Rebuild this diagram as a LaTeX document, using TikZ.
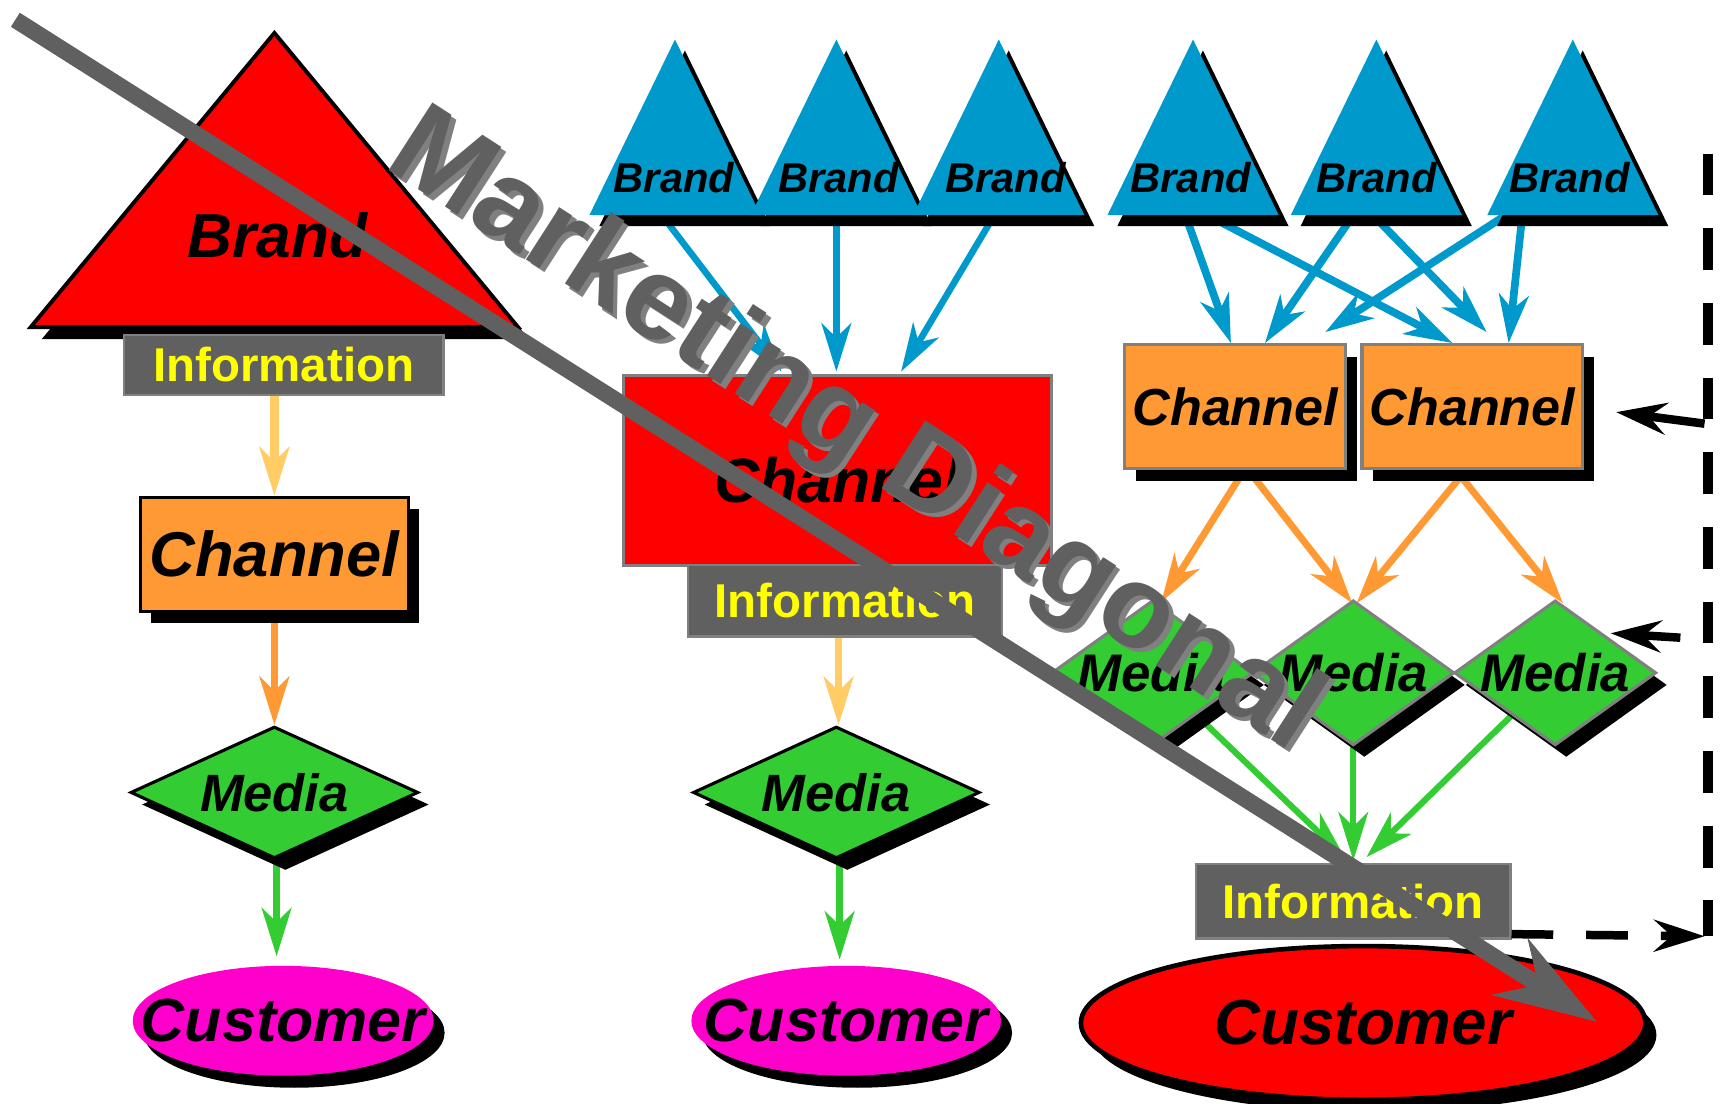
\documentclass[tikz,border=0pt]{standalone}
\usepackage{fontspec}
\setmainfont{Liberation Sans}
\usetikzlibrary{shapes.geometric,shadows,arrows.meta,calc,backgrounds}

\definecolor{brandred}{HTML}{FF0000}
\definecolor{brandblue}{HTML}{0099CC}
\definecolor{chorange}{HTML}{FF9933}
\definecolor{infoorange}{HTML}{FFCC66}
\definecolor{medgreen}{HTML}{33CC33}
\definecolor{custpink}{HTML}{FF00CC}
\definecolor{infogrey}{HTML}{606060}
\definecolor{edgegrey}{HTML}{808080}
\definecolor{infoyellow}{HTML}{FFFF00}

\newcommand{\setfs}[1]{\fontsize{#1}{#1}\selectfont}

\tikzset{
  blackshadow/.style={drop shadow={shadow xshift=0.1cm, shadow yshift=-0.11cm, fill=black, opacity=1}},
  trishadow/.style={drop shadow={shadow xshift=0.09cm, shadow yshift=-0.1cm, fill=black, opacity=1}},
  lbl/.style={font=\bfseries\itshape\setfs{#1}},
  chbox/.style={rectangle, draw=edgegrey, line width=0.8pt, fill=chorange, blackshadow, inner sep=0pt},
  infobox/.style={rectangle, draw=edgegrey, line width=0.6pt, fill=infogrey, text=infoyellow, inner sep=0pt, font=\bfseries\setfs{12.3}},
  medbox/.style={diamond, draw=edgegrey, line width=0.8pt, fill=medgreen, blackshadow, inner sep=0pt},
  custell/.style={ellipse, fill=custpink, blackshadow, inner sep=0pt},
  flowarr/.style 2 args={color=#1, line width=#2, -{Stealth[length=0.44cm, width=0.27cm, inset=0.13cm]}},
  fbarr/.style={line width=2.2pt, -{Stealth[length=0.46cm, width=0.29cm, inset=0.16cm]}},
  fbdash/.style={line width=2.6pt, dash pattern=on 0.38cm off 0.3cm},
  diagbar/.style={infogrey, line width=4.3pt, -{Stealth[length=0.93cm, width=0.6cm, inset=0.3cm]}},
  mdtext/.style={font=\bfseries\setfs{30.4}, rotate=-32.8, inner sep=0pt}
}

\begin{document}
\begin{tikzpicture}[x=0.01cm, y=-0.01cm]
  \useasboundingbox (0,0) rectangle (1568,1005);
  %% brands
  \draw[line width=1pt, fill=brandred, blackshadow] (250,30) -- (472,298) -- (28,298) -- cycle;
  \node[lbl=16.1] (brandL) at (253,214) {Brand};
  \foreach \x/\n in {615/mt1,762/mt2,910/mt3,1087/rt1,1254/rt2,1433/rt3}{
    \fill[brandblue, trishadow] (\x,36) -- (\x+78,196) -- (\x-78,196) -- cycle;
    \coordinate (\n) at (\x,196);
  }
  \foreach \x/\n in {614/mb1,764/mb2,916/mb3,1085/rb1,1254/rb2,1430/rb3}
    \node[lbl=10.8] (\n) at (\x,162) {Brand};

  %% left column
  \node[infobox, minimum width=2.91cm, minimum height=0.55cm] (infoL) at (258.5,332.5) {Information};
  \node[chbox, draw=black, lbl=16.4, minimum width=2.44cm, minimum height=1.04cm] (chL) at (250,505) {Channel};
  \node[medbox, draw=black, lbl=13.6, minimum width=2.62cm, minimum height=1.2cm] (medL) at (250,722) {\makebox[0pt]{Media}};
  \node[custell, lbl=15.8, minimum width=2.74cm, minimum height=1cm] (custL) at (258,930) {\makebox[0pt]{Customer}};

  %% middle column
  \node[rectangle, draw=edgegrey, line width=0.8pt, fill=brandred, lbl=16.2, minimum width=3.9cm, minimum height=1.73cm,
        text height=0.59cm, text depth=0pt] (chM) at (763,428.5) {Channel};
  \node[infobox, minimum width=2.86cm, minimum height=0.65cm] (infoM) at (770,547.5) {Information};
  \node[medbox, draw=black, lbl=13.6, minimum width=2.61cm, minimum height=1.2cm] (medM) at (762,722) {\makebox[0pt]{Media}};
  \node[custell, lbl=15.8, minimum width=2.82cm, minimum height=1cm] (custM) at (771,930) {\makebox[0pt]{Customer}};

  %% right column
  \node[chbox, lbl=13.5, minimum width=2.01cm, minimum height=1.13cm] (ch1) at (1125.5,370.5) {Channel};
  \node[chbox, lbl=13.5, minimum width=2.01cm, minimum height=1.13cm] (ch2) at (1341.5,370.5) {Channel};
  \node[medbox, lbl=13.7, minimum width=1.84cm, minimum height=1.32cm] (md1) at (1050,613) {\makebox[0pt]{Media}};
  \node[medbox, lbl=13.7, minimum width=1.84cm, minimum height=1.32cm] (md2) at (1233,613) {\makebox[0pt]{Media}};
  \node[medbox, lbl=13.7, minimum width=1.84cm, minimum height=1.32cm] (md3) at (1417,613) {\makebox[0pt]{Media}};
  \node[infobox, minimum width=2.86cm, minimum height=0.68cm] (infoR) at (1233,821) {Information};
  \node[custell, fill=brandred, draw=black, line width=1.2pt, lbl=16.5, minimum width=5.14cm, minimum height=1.4cm] (custR) at (1242,932) {\makebox[0pt]{Customer}};

  %% flows
  \begin{scope}[on background layer]
    \draw[flowarr={infoorange}{2.3pt}] (infoL.south -| chL.north) -- (chL.north);
    \draw[flowarr={chorange}{2pt}] (chL.south) -- (medL.north);
    \draw[flowarr={medgreen}{1.8pt}] ($(medL.south)+(2,0)$) -- ($(custL.north)+(-6,-8)$);

    \draw[flowarr={brandblue}{1.7pt}] ($(mt1)+(-12,0)$) -- ($(chM.north)+(-51,-2)$);
    \draw[flowarr={brandblue}{1.7pt}] (mt2) -- ($(chM.north)+(-1,-2)$);
    \draw[flowarr={brandblue}{1.7pt}] ($(mt3)+(-4,0)$) -- ($(chM.north)+(58,-2)$);
    \draw[flowarr={infoorange}{2pt}] ($(infoM.south)+(-6,0)$) -- ($(medM.north)+(2,0)$);
    \draw[flowarr={medgreen}{1.8pt}] ($(medM.south)+(3,0)$) -- ($(custM.north)+(-6,-5)$);

    \draw[flowarr={brandblue}{2pt}] ($(rt1)+(-7,0)$) -- ($(ch1.north)+(-4,0)$);
    \draw[flowarr={brandblue}{2pt}] ($(rt1)+(13,0)$) -- ($(ch2.north)+(-18,0)$);
    \draw[flowarr={brandblue}{2pt}] ($(rt2)+(-21,0)$) -- ($(ch1.north)+(27,0)$);
    \draw[flowarr={brandblue}{2pt}] ($(rt2)+(-3,0)$) -- ($(ch2.north)+(13,-10)$);
    \draw[flowarr={brandblue}{2pt}] ($(rt3)+(-61,0)$) -- ($(ch1.north)+(82,-10)$);
    \draw[flowarr={brandblue}{2pt}] ($(rt3)+(-46,0)$) -- ($(ch2.north)+(33,0)$);

    \draw[flowarr={chorange}{1.8pt}] ($(ch1.south)+(8,0)$) -- ($(md1.north)+(8,3)$);
    \draw[flowarr={chorange}{1.8pt}] ($(ch1.south)+(12,0)$) -- ($(md2.north)+(-1,4)$);
    \draw[flowarr={chorange}{1.8pt}] ($(ch2.south)+(-6,0)$) -- ($(md2.north)+(3,4)$);
    \draw[flowarr={chorange}{1.8pt}] ($(ch2.south)+(-15,0)$) -- ($(md3.north)+(7,4)$);

    \draw[flowarr={medgreen}{1.6pt}] (md1) -- ($(infoR.north)+(-8,-5)$);
    \draw[flowarr={medgreen}{1.6pt}] (md2) -- ($(infoR.north)+(0,-2)$);
    \draw[flowarr={medgreen}{1.6pt}] (md3) -- ($(infoR.north)+(12,-5)$);
  \end{scope}

  %% feedback
  \coordinate (dtop) at (1556,140);
  \coordinate (dbot) at (1556,853);
  \draw[fbdash] (dtop) -- (dbot);
  \draw[fbdash, fbarr] ($(infoR.south east)+(0,-5)$) -- ($(dbot)+(-3,0)$);
  \draw[fbarr] ($(dtop)+(-3,246)$) -- ($(ch2.east)+(29,5)$);
  \draw[fbarr] ($(dtop)+(-25,441)$) -- ($(md3.east)+(-43,-36)$);

  %% diagonal
  \coordinate (dstart) at (14,18);
  \coordinate (dtip) at (1455,931);
  \draw[diagbar] (dstart) -- (dtip);
  \node[mdtext, text=edgegrey] (mdshade) at (782,400) {Marketing Diagonal};
  \node[mdtext, text=infogrey] (md) at (778,396) {Marketing Diagonal};
\end{tikzpicture}
\end{document}
